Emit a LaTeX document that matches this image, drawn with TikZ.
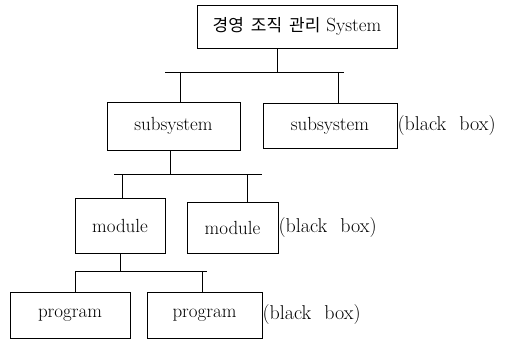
\documentclass[tikz,border=0pt]{standalone}
\usepackage{fontspec}
\newfontfamily\kr{Noto Sans CJK KR}
\begin{document}
\begin{tikzpicture}[x=1pt,y=-1pt,
  unit/.style={draw, line width=0.8pt, inner sep=0pt, font=\fontsize{19}{21}\selectfont},
  wire/.style={line width=0.8pt},
  note/.style={anchor=west, inner sep=0pt, font=\fontsize{20}{22}\selectfont}]
\useasboundingbox (0,0) rectangle (527,342);

% boxes
\node[unit, minimum width=200pt, minimum height=43pt] (top) at (297,26.5) {{\kr\fontsize{17}{19}\selectfont 경영\hspace{7pt}조직\hspace{7pt}관리}\hspace{6pt}System};
\node[unit, minimum width=133pt, minimum height=48pt] (subL) at (173.5,126) {subsystem};
\node[unit, minimum width=134pt, minimum height=45pt] (subR) at (330,125.5) {subsystem};
\node[unit, minimum width=90pt, minimum height=55pt] (modL) at (120,225.5) {module};
\node[unit, minimum width=91pt, minimum height=51pt] (modR) at (232.5,227.5) {module};
\node[unit, minimum width=120pt, minimum height=46pt] (progL) at (70,315) {program};
\node[unit, minimum width=115pt, minimum height=46pt] (progR) at (204.5,315) {program};

% black box labels
\node[note] (nS) at (subR.east) {(black\hspace{13pt}box)};
\node[note] (nM) at (modR.east) {(black\hspace{13pt}box)};
\node[note] (nP) at (progR.east) {(black\hspace{13pt}box)};

% system -> subsystems
\coordinate (j1) at (277,72);
\coordinate (a1) at (180,72);
\coordinate (a2) at (338,72);
\draw[wire] (top.south -| j1) -- (j1);
\draw[wire] (165,72) -- (344,72);
\draw[wire] (a1) -- (a1 |- subL.north);
\draw[wire] (a2) -- (a2 |- subR.north);

% subsystem -> modules
\coordinate (j2) at (170,174);
\coordinate (b1) at (122,174);
\coordinate (b2) at (247,174);
\draw[wire] (subL.south -| j2) -- (j2);
\draw[wire] (114,174) -- (262,174);
\draw[wire] (b1) -- (b1 |- modL.north);
\draw[wire] (b2) -- (b2 |- modR.north);

% module -> programs
\coordinate (j3) at (120,271);
\coordinate (c1) at (75,271);
\coordinate (c2) at (202,271);
\draw[wire] (modL.south -| j3) -- (j3);
\draw[wire] (c1) -- (207,271);
\draw[wire] (c1) -- (c1 |- progL.north);
\draw[wire] (c2) -- (c2 |- progR.north);
\end{tikzpicture}
\end{document}
